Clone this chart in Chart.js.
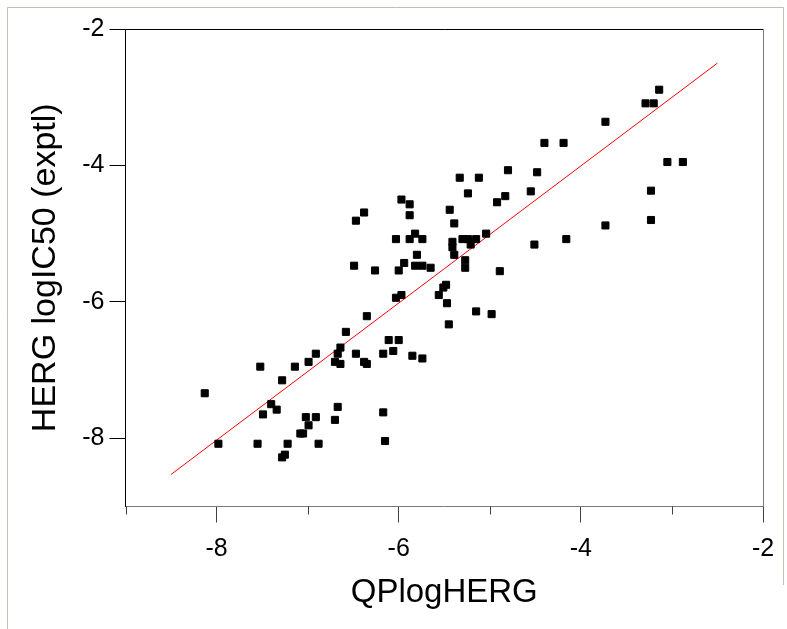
<!DOCTYPE html>
<html>
<head>
<meta charset="utf-8">
<title>QPlogHERG vs HERG logIC50</title>
<script src="https://cdn.jsdelivr.net/npm/chart.js@4.4.1/dist/chart.umd.min.js"></script>
<style>
  html, body { margin: 0; padding: 0; background: #fff; }
  #herg { display: block; }
</style>
</head>
<body>
<canvas id="herg" width="787" height="629"></canvas>
<script>
  const qplogHERG = [
    -3.14, -3.29, -3.20, -3.73, -4.40, -4.19, -3.05, -2.88, -5.33, -5.12,
    -4.80, -4.48, -5.24, -4.92, -4.83, -4.55, -3.23, -5.44, -5.39, -3.73,
    -3.23, -5.04, -5.30, -5.24, -5.15, -5.41, -5.41, -5.21, -4.51, -4.16,
    -5.39, -5.27, -5.27, -4.89, -5.97, -5.88, -5.88, -6.38, -6.47, -5.82,
    -6.03, -5.88, -5.74, -5.80, -6.49, -6.26, -6.00, -5.94, -5.82, -5.74,
    -5.65, -5.48, -5.51, -5.56, -5.47, -5.15, -4.98, -5.45, -5.97, -6.03,
    -6.35, -6.58, -6.64, -6.67, -6.70, -6.64, -6.91, -6.99, -7.14, -7.52,
    -7.28, -6.47, -6.38, -6.35, -6.17, -6.11, -6.00, -6.06, -5.85, -5.74,
    -8.13, -7.40, -7.34, -7.49, -7.02, -6.91, -6.99, -6.67, -6.70, -6.17,
    -7.08, -7.05, -7.98, -7.55, -7.22, -6.88, -6.15, -7.25, -7.28, -7.95
  ];
  const logIC50 = [
    -2.89, -3.09, -3.09, -3.36, -3.67, -3.67, -3.95, -3.95, -4.18, -4.18,
    -4.07, -4.10, -4.41, -4.54, -4.45, -4.38, -4.37, -4.65, -4.85, -4.88,
    -4.80, -5.00, -5.08, -5.08, -5.08, -5.12, -5.20, -5.16, -5.16, -5.08,
    -5.31, -5.39, -5.50, -5.55, -4.50, -4.57, -4.73, -4.69, -4.81, -5.00,
    -5.08, -5.08, -5.08, -5.31, -5.47, -5.54, -5.54, -5.43, -5.47, -5.47,
    -5.50, -5.75, -5.79, -5.90, -6.02, -6.14, -6.18, -6.33, -5.90, -5.94,
    -6.21, -6.44, -6.67, -6.76, -6.88, -6.91, -6.76, -6.88, -6.95, -6.95,
    -7.15, -6.76, -6.88, -6.91, -6.76, -6.56, -6.56, -6.72, -6.79, -6.83,
    -7.34, -7.50, -7.58, -7.65, -7.69, -7.69, -7.81, -7.54, -7.73, -7.62,
    -7.93, -7.93, -8.08, -8.08, -8.08, -8.08, -8.04, -8.24, -8.28, -9.10
  ];

  // regression line end points
  const fitX = [-8.5, -2.5];
  const fitY = [-8.53, -2.50];

  // axes
  const xTicks = [-8, -6, -4, -2];
  const xMinorTicks = [-9, -7, -5, -3];
  const yTicks = [-8, -6, -4, -2];

  const points = qplogHERG.map((x, i) => ({ x: x, y: logIC50[i] }));
  const fitLine = fitX.map((x, i) => ({ x: x, y: fitY[i] }));

  // frame, minor ticks and the page border
  const framePlugin = {
    id: 'frame',
    beforeDraw(chart) {
      const ctx = chart.ctx;
      ctx.save();
      ctx.strokeStyle = '#c4bfb2';
      ctx.lineWidth = 1;
      ctx.beginPath();
      ctx.moveTo(7.5, 629);
      ctx.lineTo(7.5, 7.5);
      ctx.lineTo(783.5, 7.5);
      ctx.lineTo(783.5, 585);
      ctx.stroke();
      ctx.restore();
    },
    afterDraw(chart) {
      const ctx = chart.ctx;
      const a = chart.chartArea;
      const xs = chart.scales.x;
      ctx.save();
      ctx.lineWidth = 1;
      ctx.strokeStyle = '#000';
      ctx.beginPath();
      ctx.moveTo(a.left, Math.round(a.top) + 0.5);
      ctx.lineTo(a.right, Math.round(a.top) + 0.5);
      ctx.stroke();
      ctx.strokeStyle = '#7a7a7a';
      ctx.beginPath();
      ctx.moveTo(Math.round(a.right) + 0.5, a.top);
      ctx.lineTo(Math.round(a.right) + 0.5, a.bottom);
      ctx.stroke();
      ctx.strokeStyle = '#404040';
      xMinorTicks.forEach(v => {
        const px = Math.round(xs.getPixelForValue(v)) + 0.5;
        ctx.beginPath();
        ctx.moveTo(px, a.bottom);
        ctx.lineTo(px, a.bottom + 8);
        ctx.stroke();
      });
      ctx.restore();
    }
  };

  const ctx = document.getElementById('herg').getContext('2d');
  const hergChart = new Chart(ctx, {
    type: 'scatter',
    data: {
      datasets: [
        {
          label: 'compounds',
          data: points,
          pointStyle: 'rect',
          pointRadius: 5,
          pointBorderWidth: 1,
          backgroundColor: '#000',
          borderColor: '#000',
          clip: false
        },
        {
          label: 'fit',
          data: fitLine,
          showLine: true,
          borderColor: '#ff0000',
          borderWidth: 1,
          pointRadius: 0,
          fill: false
        }
      ]
    },
    options: {
      responsive: false,
      animation: false,
      layout: { padding: { top: 29, right: 24, left: 0, bottom: 0 } },
      plugins: {
        legend: { display: false },
        tooltip: { enabled: false }
      },
      scales: {
        x: {
          type: 'linear',
          min: -9,
          max: -2,
          afterFit: function(scale) { scale.height = 122.5; },
          afterBuildTicks: function(scale) { scale.ticks = xTicks.map(v => ({ value: v })); },
          grid: { drawOnChartArea: false, tickLength: 16, tickColor: '#404040' },
          border: { color: '#7a7a7a' },
          ticks: {
            padding: 12,
            color: '#000',
            maxRotation: 0,
            font: { family: '"Liberation Sans", Arial, sans-serif', size: 25 }
          },
          title: {
            display: true,
            text: 'QPlogHERG',
            color: '#000',
            padding: { top: 0, bottom: 16 },
            font: { family: '"Liberation Sans", Arial, sans-serif', size: 33 }
          }
        },
        y: {
          type: 'linear',
          min: -9,
          max: -2,
          afterFit: function(scale) { scale.width = 125.5; },
          afterBuildTicks: function(scale) { scale.ticks = yTicks.map(v => ({ value: v })); },
          grid: { drawOnChartArea: false, tickLength: 16, tickColor: '#000' },
          border: { color: '#000' },
          ticks: {
            padding: 5,
            color: '#000',
            font: { family: '"Liberation Sans", Arial, sans-serif', size: 25 }
          },
          title: {
            display: true,
            text: 'HERG logIC50 (exptl)',
            color: '#000',
            padding: { top: 25, bottom: 0 },
            font: { family: '"Liberation Sans", Arial, sans-serif', size: 34 }
          }
        }
      }
    },
    plugins: [framePlugin]
  });
</script>
</body>
</html>
